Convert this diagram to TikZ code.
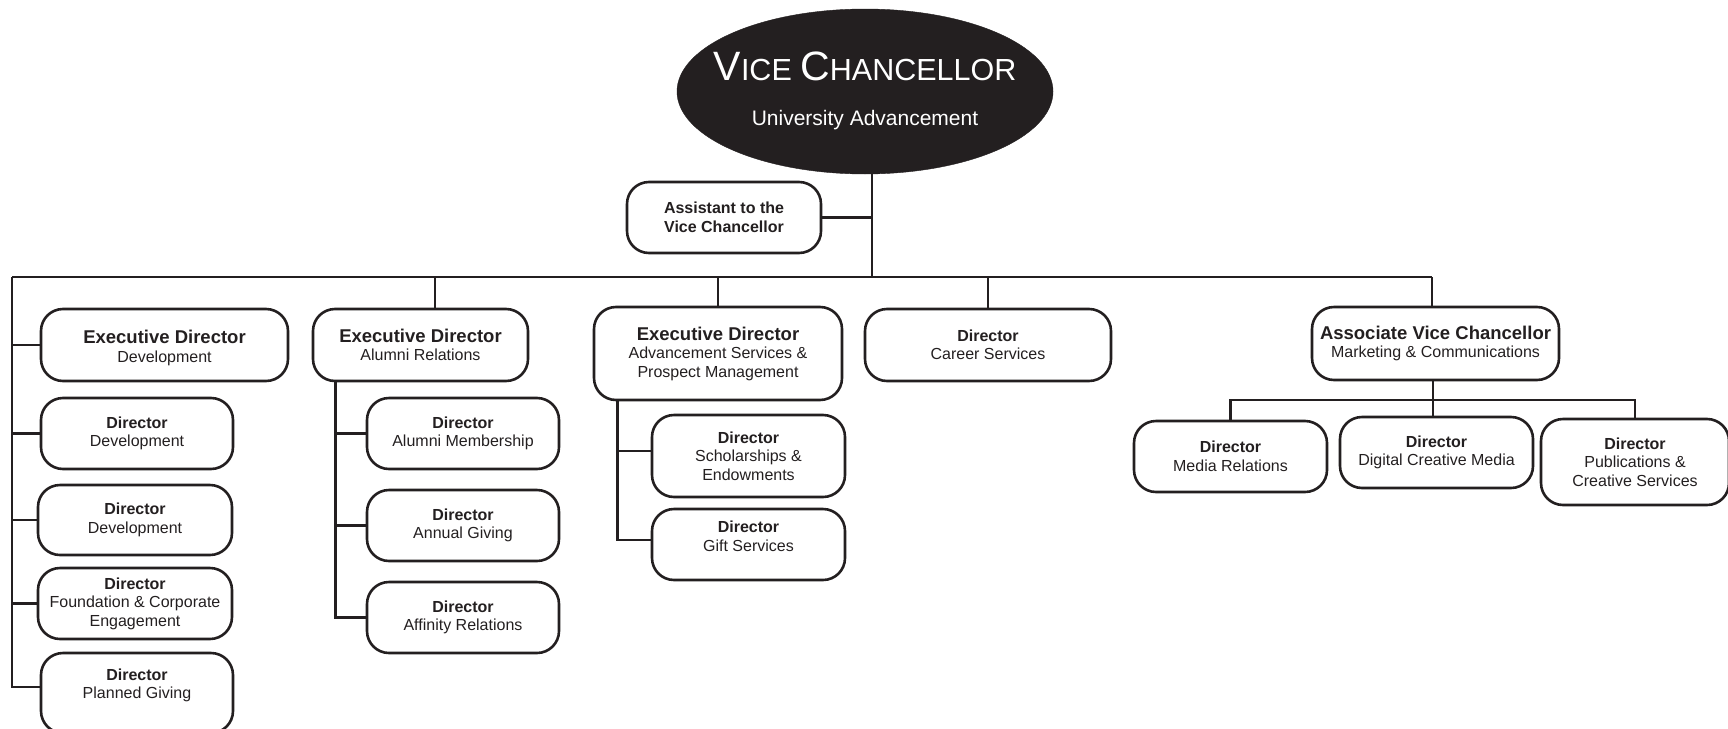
\documentclass[tikz,border=0pt]{standalone}
\usepackage{fontspec}
\setmainfont{Liberation Sans}
\usetikzlibrary{shapes.geometric}
\definecolor{ink}{HTML}{231F20}
\newcommand{\hd}[1]{{\bfseries #1}}
\newcommand{\bighd}[1]{{\fontsize{18.5}{19.5}\selectfont\bfseries #1}}
\tikzset{
  box/.style={draw=ink, line width=2.6pt, rounded corners=22pt, align=center,
    inner sep=0pt, text=ink, font=\fontsize{16}{18.5}\selectfont},
  conn/.style={draw=ink, line width=2.6pt},
  vctext/.style={anchor=base, text=white, inner sep=0pt}
}
\begin{document}
\begin{tikzpicture}[x=1pt,y=-1pt]
\useasboundingbox (0,0) rectangle (1728,728);
% top
\node[ellipse, fill=ink, draw=ink, minimum width=376pt, minimum height=165pt, inner sep=0pt] (vc) at (865,91.5) {};
\node[vctext] (vct) at (865,80) {\fontsize{41}{41}\selectfont V\fontsize{30.5}{30.5}\selectfont ICE \fontsize{41}{41}\selectfont C\fontsize{30.5}{30.5}\selectfont HANCELLOR};
\node[vctext] (vcs) at (865,125) {\fontsize{21}{21}\selectfont University Advancement};
\node[box, minimum width=194pt, minimum height=71pt] (asst) at (724,217.5) {\hd{Assistant to the}\\\hd{Vice Chancellor}};
% first row
\node[box, minimum width=247pt, minimum height=72pt, text height=38pt] (exdev) at (164.5,345) {\bighd{Executive Director}\\Development};
\node[box, minimum width=215pt, minimum height=72pt] (exalum) at (420.5,345) {\bighd{Executive Director}\\Alumni Relations};
\node[box, minimum width=248pt, minimum height=93pt] (exadv) at (718,353.5) {\bighd{Executive Director}\\Advancement Services \&\\Prospect Management};
\node[box, minimum width=246pt, minimum height=72pt] (career) at (988,345) {\hd{Director}\\Career Services};
\node[box, minimum width=247pt, minimum height=73pt] (avc) at (1435.5,343.5) {\bighd{Associate Vice Chancellor}\\Marketing \& Communications};
% development column
\node[box, minimum width=192pt, minimum height=71pt] (dev1) at (137,433.5) {\hd{Director}\\Development};
\node[box, minimum width=194pt, minimum height=70pt] (dev2) at (135,520) {\hd{Director}\\Development};
\node[box, minimum width=194pt, minimum height=71pt] (found) at (135,603.5) {\hd{Director}\\Foundation \& Corporate\\Engagement};
\node[box, minimum width=192pt, minimum height=80pt, text depth=19pt] (planned) at (137,693) {\hd{Director}\\Planned Giving};
% alumni column
\node[box, minimum width=192pt, minimum height=71pt] (mem) at (463,433.5) {\hd{Director}\\Alumni Membership};
\node[box, minimum width=192pt, minimum height=71pt] (annual) at (463,525.5) {\hd{Director}\\Annual Giving};
\node[box, minimum width=192pt, minimum height=71pt] (affin) at (463,617.5) {\hd{Director}\\Affinity Relations};
% advancement column
\node[box, minimum width=193pt, minimum height=82pt] (schol) at (748.5,456) {\hd{Director}\\Scholarships \&\\Endowments};
\node[box, minimum width=193pt, minimum height=71pt, text depth=17pt] (gift) at (748.5,544.5) {\hd{Director}\\Gift Services};
% marketing row
\node[box, minimum width=193pt, minimum height=71pt] (media) at (1230.5,456.5) {\hd{Director}\\Media Relations};
\node[box, minimum width=193pt, minimum height=71pt] (digital) at (1436.5,452.5) {\hd{Director}\\Digital Creative Media};
\node[box, minimum width=188pt, minimum height=86pt] (pubs) at (1635,462) {\hd{Director}\\Publications \&\\Creative Services};
% connectors
\coordinate (busL) at (12,277);
\coordinate (busR) at (1432,277);
\coordinate (j0) at (872,277);
\coordinate (d1) at (435,277);
\coordinate (alv) at ([xshift=24pt]exalum.south west);
\coordinate (adv) at ([xshift=25pt]exadv.south west);
\coordinate (sb) at (1433,400);
\draw[conn] ([xshift=7pt]vc.south) -- (j0);
\draw[conn] (asst.east) -- (asst.east -| j0);
\draw[conn] (busL) -- (busR);
\draw[conn] (busL) |- ([yshift=6pt]planned.west);
\draw[conn] (exdev.west) -- (exdev.west -| busL);
\draw[conn] (dev1.west) -- (dev1.west -| busL);
\draw[conn] (dev2.west) -- (dev2.west -| busL);
\draw[conn] (found.west) -- (found.west -| busL);
\draw[conn] (d1) -- (d1 |- exalum.north);
\draw[conn] (exadv.north |- busL) -- (exadv.north);
\draw[conn] (career.north |- busL) -- (career.north);
\draw[conn] (busR) -- (busR |- avc.north);
\draw[conn] (alv) |- (affin.west);
\draw[conn] (mem.west) -- (mem.west -| alv);
\draw[conn] (annual.west) -- (annual.west -| alv);
\draw[conn] (adv) |- ([yshift=4.5pt]gift.west);
\draw[conn] ([yshift=5pt]schol.west) -- ([yshift=5pt]schol.west -| adv);
\draw[conn] (sb |- avc.south) -- (sb);
\draw[conn] (media.north) |- (sb) -| (pubs.north);
\draw[conn] (sb) -- (sb |- digital.north);
\end{tikzpicture}
\end{document}
